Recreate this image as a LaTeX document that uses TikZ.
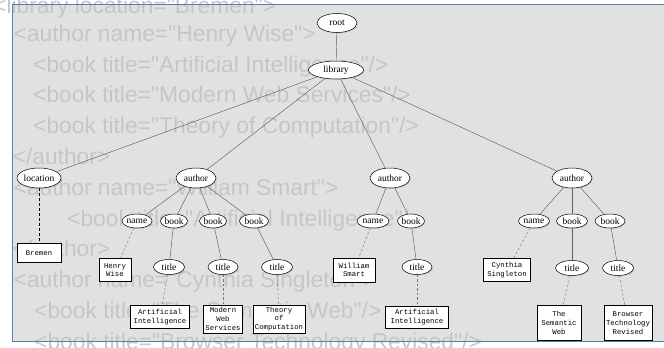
\documentclass[tikz,border=0pt]{standalone}
\usepackage{fontspec}
\setmainfont{Liberation Serif}
\newfontfamily\bgfont{Liberation Sans}
\newfontfamily\monofont{Liberation Mono}
\usetikzlibrary{shapes.geometric,shadows}
\definecolor{bgtext}{RGB}{198,198,198}
\definecolor{panel}{RGB}{225,225,225}
\definecolor{frameblue}{RGB}{84,128,176}
\definecolor{edgegray}{RGB}{95,95,95}
\definecolor{dashgray}{RGB}{120,120,120}
\begin{document}
\begin{tikzpicture}[x=1pt,y=-1pt,
  xmlline/.style={anchor=base west, inner sep=0pt, text=bgtext, font=\bgfont\fontsize{22.8}{27}\selectfont},
  sz/.style 2 args={minimum width=#1pt, minimum height=#2pt},
  elem/.style={ellipse, draw=black, line width=0.5pt, fill=white, inner sep=0pt,
    font=\fontsize{9.5}{11}\selectfont,
    drop shadow={shadow xshift=0.9pt, shadow yshift=-0.9pt, opacity=0.25}},
  leaf/.style={rectangle, draw=black, line width=0.5pt, fill=white, inner sep=0.8pt, align=center,
    font=\monofont\fontsize{7.3}{8.7}\selectfont,
    drop shadow={shadow xshift=0.9pt, shadow yshift=-0.9pt, opacity=0.25}},
  link/.style={draw=edgegray, line width=0.45pt},
  txtlink/.style={draw=dashgray, line width=0.45pt, dash pattern=on 2.5pt off 2pt}]
\useasboundingbox (0,0) rectangle (664,348);
\clip (0,0) rectangle (664,348);
% panel
\fill[panel] (12.5,4.5) rectangle (680,341.5);
% background XML text
\node[xmlline] (l1) at (-7,13) {<library location="Bremen">};
\node[xmlline] (l2) at (13.5,41.3) {<author name="Henry Wise">};
\node[xmlline] (l3) at (33,72.1) {<book title="Artificial Intelligence"/>};
\node[xmlline] (l4) at (33,102.9) {<book title="Modern Web Services"/>};
\node[xmlline] (l5) at (33,133.7) {<book title="Theory of Computation"/>};
\node[xmlline] (l6) at (12.5,164.5) {</author>};
\node[xmlline] (l7) at (13.5,195.3) {<author name="William Smart">};
\node[xmlline] (l8) at (67,226.1) {<book title="Artificial Intelligence"/>};
\node[xmlline] (l9) at (12.5,256.9) {</author>};
\node[xmlline] (l10) at (13.5,287.7) {<author name="Cynthia Singleton">};
\node[xmlline] (l11) at (34,318.5) {<book title="The Semantic Web"/>};
\node[xmlline] (l12) at (34,349.3) {<book title="Browser Technology Revised"/>};
% frame
\draw[frameblue, line width=1.2pt] (12.5,4.5) rectangle (680,341.5);
% tree nodes
\node[elem, sz={40}{19}] (root) at (337,23) {root};
\node[elem, sz={55}{18}] (library) at (336,70) {library};
\node[elem, sz={44}{20}] (location) at (39,178) {location};
\node[leaf, sz={44}{19}] (bremen) at (39,253) {Bremen};
\node[elem, sz={40}{20}] (author1) at (196,178) {author};
\node[elem, sz={30}{14}] (name1) at (137,221) {name};
\node[elem, sz={27}{14}] (book1a) at (174,221) {book};
\node[elem, sz={27}{14}] (book1b) at (213,221) {book};
\node[elem, sz={29}{14}] (book1c) at (254,221) {book};
\node[leaf, sz={32}{23}] (henry) at (115,270) {Henry\\Wise};
\node[elem, sz={31}{15}] (title1a) at (169,267) {title};
\node[elem, sz={30}{15}] (title1b) at (223,267) {title};
\node[elem, sz={31}{15}] (title1c) at (277,267) {title};
\node[leaf, sz={59}{23}] (ai1) at (160,317) {Artificial\\Intelligence};
\node[leaf, sz={39}{28}] (mws) at (223,319) {Modern\\Web\\Services};
\node[leaf, sz={52}{28}] (toc) at (279,319) {Theory\\of\\Computation};
\node[elem, sz={40}{20}] (author2) at (390,178) {author};
\node[elem, sz={32}{14}] (name2) at (373,221) {name};
\node[elem, sz={27}{14}] (book2) at (411,221) {book};
\node[leaf, sz={42}{24}] (william) at (354,270) {William\\Smart};
\node[elem, sz={30}{15}] (title2) at (417,267) {title};
\node[leaf, sz={63}{22}] (ai2) at (417,317) {Artificial\\Intelligence};
\node[elem, sz={40}{20}] (author3) at (572,178) {author};
\node[elem, sz={31}{14}] (name3) at (534,221) {name};
\node[elem, sz={31}{14}] (book3a) at (572,221) {book};
\node[elem, sz={30}{14}] (book3b) at (610,221) {book};
\node[leaf, sz={47}{23}] (cynthia) at (507,270) {Cynthia\\Singleton};
\node[elem, sz={33}{15}] (title3a) at (572,268) {title};
\node[elem, sz={31}{15}] (title3b) at (618,268) {title};
\node[leaf, sz={44}{35}] (semweb) at (559,323) {The\\Semantic\\Web};
\node[leaf, sz={48}{35}] (browser) at (628,323) {Browser\\Technology\\Revised};
% connectors
\draw[link] (root) -- (library);
\draw[link] (library) -- (location);
\draw[link] (library) -- (author1);
\draw[link] (library) -- (author2);
\draw[link] (library) -- (author3);
\draw[txtlink, draw=black, dash pattern=on 3pt off 2pt] (location) -- (bremen);
\draw[link] (author1) -- (name1);
\draw[link] (author1) -- (book1a);
\draw[link] (author1) -- (book1b);
\draw[link] (author1) -- (book1c);
\draw[txtlink] (name1) -- (henry);
\draw[link] (book1a) -- (title1a);
\draw[link] (book1b) -- (title1b);
\draw[link] (book1c) -- (title1c);
\draw[txtlink] (title1a) -- (ai1);
\draw[txtlink] (title1b) -- (mws);
\draw[txtlink] (title1c) -- (toc);
\draw[link] (author2) -- (name2);
\draw[link] (author2) -- (book2);
\draw[txtlink] (name2) -- (william);
\draw[link] (book2) -- (title2);
\draw[txtlink] (title2) -- (ai2);
\draw[link] (author3) -- (name3);
\draw[link] (author3) -- (book3a);
\draw[link] (author3) -- (book3b);
\draw[txtlink] (name3) -- (cynthia);
\draw[link, line width=0.8pt] (book3a) -- (title3a);
\draw[link] (book3b) -- (title3b);
\draw[txtlink] (title3a) -- (semweb);
\draw[txtlink] (title3b) -- (browser);
\end{tikzpicture}
\end{document}
